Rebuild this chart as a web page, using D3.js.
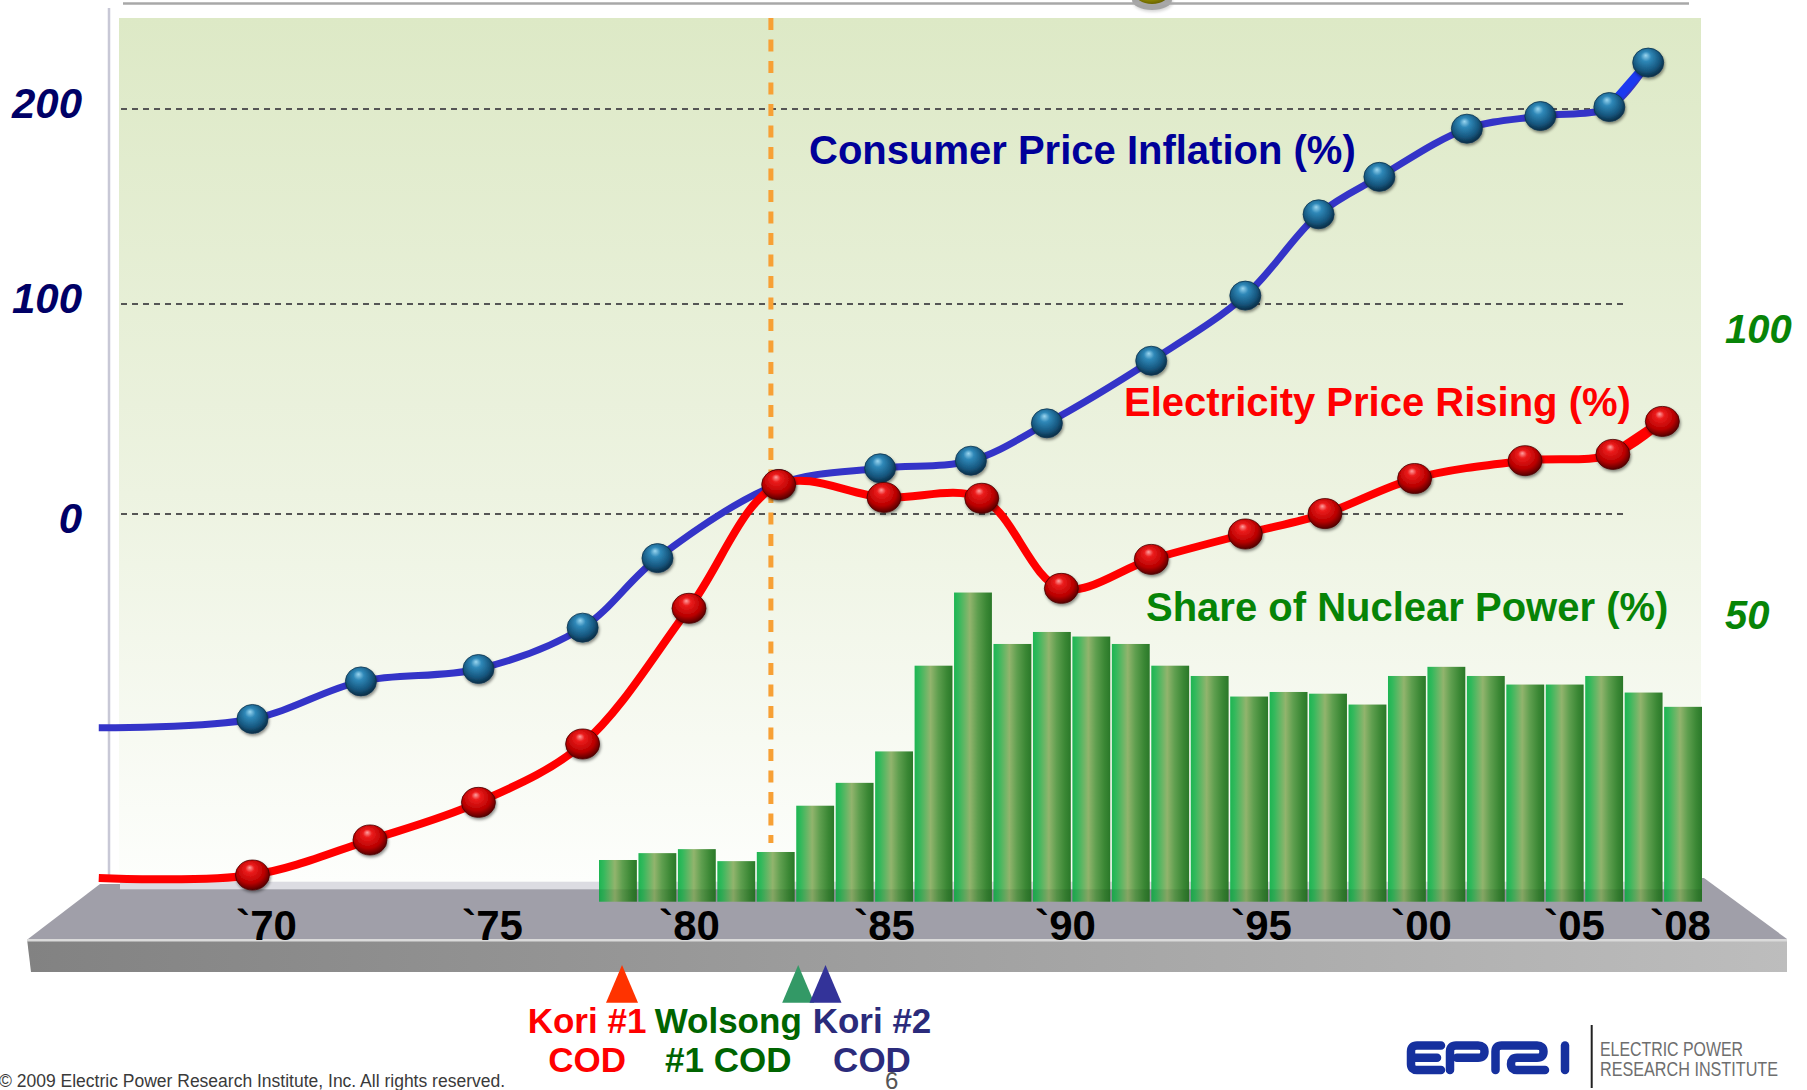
<!DOCTYPE html>
<html>
<head>
<meta charset="utf-8">
<script src="https://cdn.jsdelivr.net/npm/d3@7"></script>
<style>
  body { margin: 0; background: #fff; }
  svg { display: block; font-family: "Liberation Sans", Arial, sans-serif; }
</style>
</head>
<body>
<svg id="chart" width="1807" height="1090"></svg>
<script>
// tick values
var yearTicks = [1970, 1975, 1980, 1985, 1990, 1995, 2000, 2005, 2008];
var indexTicks = [0, 100, 200];
var shareTicks = [50, 100];

// Consumer Price Inflation (%) - first point is the left end of the line (no ball)
var cpiYears  = [1966.3, 1969.7, 1972.1, 1974.7, 1977.3, 1979.2, 1982.3, 1984.9, 1987.4, 1989.5, 1992.2, 1994.6, 1996.8, 1998.7, 2001.5, 2003.9, 2006.0, 2007.1];
var cpiValues = [-102, -97.8, -79.9, -74.0, -54.3, -21.2, 14.1, 21.6, 25.2, 43.0, 72.8, 104.1, 145.8, 165.0, 189.7, 196.2, 200.8, 223.6];

// Electricity Price Rising (%) - first point is the left end of the line (no ball)
var elecYears  = [1966.3, 1969.7, 1972.3, 1974.7, 1977.3, 1980.0, 1982.3, 1985.0, 1987.7, 1989.9, 1992.2, 1994.6, 1997.0, 1999.8, 2003.4, 2006.1, 2007.5];
var elecValues = [-173.5, -172.1, -155.4, -137.5, -109.7, -45.1, 13.8, 7.7, 7.3, -35.6, -21.8, -9.7, 0, 16.7, 25.2, 28.2, 43.9];

// Share of Nuclear Power (%)
var shareYears  = [1978, 1979, 1980, 1981, 1982, 1983, 1984, 1985, 1986, 1987, 1988, 1989, 1990, 1991,
                   1992, 1993, 1994, 1995, 1996, 1997, 1998, 1999, 2000, 2001, 2002, 2003, 2004, 2005];
var shareValues = [7, 8.2, 8.9, 6.8, 8.4, 16.5, 20.5, 26, 41, 53.8, 44.8, 46.9, 46.1, 44.8,
                   41, 39.2, 35.6, 36.4, 36.1, 34.2, 39.2, 40.8, 39.2, 37.7, 37.7, 39.2, 36.3, 33.8];

// reactor commercial operation dates
var eventYears  = [1978.3, 1982.8, 1983.5];
var eventLine1  = ["Kori #1", "Wolsong", "Kori #2"];
var eventLine2  = ["COD", "#1 COD", "COD"];
var markerYear  = 1982.1;

// styles
var eventTextColor = ["#ff0000", "#006400", "#2b2b7b"];
var eventMarkColor = ["#ff3300", "#339966", "#333399"];
var eventLabelDx   = [-35, -70, 46.5];

var svg = d3.select("#chart");
var defs = svg.append("defs");

// scales (the picture's year axis is not evenly spaced)
var x = d3.scaleLinear().domain(yearTicks).range([266, 492, 689, 884, 1065, 1261, 1421, 1574, 1680]);
var y = d3.scaleLinear().domain(indexTicks).range([513.6, 303.6, 108.6]);
var yShare = d3.scaleLinear().domain([0, 100]).range([900, 328.5]);
var xBar = d3.scaleBand().domain(shareYears).range([599, 1702]).paddingInner(0.04);

// gradients
var bg = defs.append("linearGradient").attr("id", "panel").attr("x1", 0).attr("y1", 0).attr("x2", 0).attr("y2", 1);
bg.append("stop").attr("offset", "0%").attr("stop-color", "#dde9c6");
bg.append("stop").attr("offset", "55%").attr("stop-color", "#edf3e1");
bg.append("stop").attr("offset", "100%").attr("stop-color", "#fdfefc");

var bar = defs.append("linearGradient").attr("id", "bar");
[["0%", "#1db552"], ["12%", "#33b95c"], ["42%", "#92b46d"], ["62%", "#5f9f4f"], ["85%", "#3a8734"], ["100%", "#2a7829"]]
  .forEach(function(s) { bar.append("stop").attr("offset", s[0]).attr("stop-color", s[1]); });

var front = defs.append("linearGradient").attr("id", "front");
front.append("stop").attr("offset", "0%").attr("stop-color", "#828282");
front.append("stop").attr("offset", "100%").attr("stop-color", "#bdbdbd");

function ball(id, stops) {
  var g = defs.append("radialGradient").attr("id", id)
    .attr("cx", "45%").attr("cy", "40%").attr("r", "60%").attr("fx", "42%").attr("fy", "25%");
  stops.forEach(function(s) { g.append("stop").attr("offset", s[0]).attr("stop-color", s[1]); });
}
ball("redball", [["0%", "#ffa0a0"], ["22%", "#ec1c1c"], ["70%", "#b80000"], ["100%", "#560000"]]);
ball("blueball", [["0%", "#9ad6f0"], ["28%", "#2f88b8"], ["72%", "#16577f"], ["100%", "#0a2d46"]]);
ball("yellowball", [["0%", "#f0ee60"], ["40%", "#c8c000"], ["100%", "#6a6400"]]);

var sh = defs.append("filter").attr("id", "shadow").attr("x", "-30%").attr("y", "-30%").attr("width", "160%").attr("height", "160%");
sh.append("feDropShadow").attr("dx", 1).attr("dy", 2).attr("stdDeviation", 1.6)
  .attr("flood-color", "#000").attr("flood-opacity", 0.45);

// platform
svg.append("polygon").attr("points", "100,884 1704,878 1787,939 28,939").attr("fill", "#a09fa9");
svg.append("polygon").attr("points", "27,939 1787,939 1787,972 31,972").attr("fill", "url(#front)");
svg.append("rect").attr("x", 27).attr("y", 939).attr("width", 1760).attr("height", 2.5).attr("fill", "#dadada");

// plot panel
svg.append("rect").attr("x", 119).attr("y", 18).attr("width", 1582).attr("height", 864).attr("fill", "url(#panel)");
svg.append("rect").attr("x", 120).attr("y", 881.7).attr("width", 1581).attr("height", 7.6).attr("fill", "#dcdce2");
svg.append("line").attr("x1", 109).attr("x2", 109).attr("y1", 8).attr("y2", 876)
  .attr("stroke", "#c8c8d6").attr("stroke-width", 2.5);

// top rule with a cut-off ball
svg.append("ellipse").attr("cx", 1152).attr("cy", 0).attr("rx", 20).attr("ry", 10)
  .attr("fill", "#000").attr("opacity", 0.35).attr("filter", "url(#shadow)");
svg.append("line").attr("x1", 123).attr("x2", 1689).attr("y1", 3.6).attr("y2", 3.6)
  .attr("stroke", "#a8a8a8").attr("stroke-width", 2.5);
svg.append("ellipse").attr("cx", 1152).attr("cy", -9).attr("rx", 18).attr("ry", 13)
  .attr("fill", "url(#yellowball)");

// left axis with dashed gridlines
var gy = svg.append("g").attr("transform", "translate(1623,0)")
  .call(d3.axisLeft(y).tickValues(indexTicks).tickSize(1505).tickPadding(36).tickFormat(d3.format("d")));
gy.select(".domain").remove();
gy.selectAll(".tick line").attr("stroke", "#555").attr("stroke-width", 2).attr("stroke-dasharray", "6,5");
gy.selectAll(".tick text").attr("font-size", 42).attr("font-weight", "bold").attr("font-style", "italic")
  .attr("font-family", "Liberation Sans, Arial, sans-serif").attr("fill", "#000066")
  .attr("dy", function(d) { return d === 0 ? "0.45em" : "0.2em"; });

// right axis labels for the share
var gr = svg.append("g").attr("transform", "translate(1725,0)")
  .call(d3.axisRight(yShare).tickValues(shareTicks).tickSize(0).tickPadding(0));
gr.select(".domain").remove();
gr.selectAll(".tick text").attr("font-size", 40).attr("font-weight", "bold").attr("font-style", "italic")
  .attr("font-family", "Liberation Sans, Arial, sans-serif").attr("fill", "#078407").attr("dy", "0.36em");

// orange dashed marker line
svg.append("line").attr("x1", x(markerYear)).attr("x2", x(markerYear)).attr("y1", 18).attr("y2", 843)
  .attr("stroke", "#f7a035").attr("stroke-width", 5).attr("stroke-dasharray", "12,9.5");

// bars
var shareData = shareYears.map(function(yr, i) { return { year: yr, value: shareValues[i] }; });
svg.append("g").selectAll("rect").data(shareData).join("rect")
  .attr("x", function(d) { return xBar(d.year); })
  .attr("y", function(d) { return yShare(d.value); })
  .attr("width", xBar.bandwidth())
  .attr("height", function(d) { return yShare(0) + 1.7 - yShare(d.value); })
  .attr("fill", "url(#bar)");
svg.append("rect").attr("x", xBar(shareYears[0])).attr("y", 889.3)
  .attr("width", 1702 - xBar(shareYears[0])).attr("height", yShare(0) + 1.7 - 889.3)
  .attr("fill", "#000").attr("opacity", 0.08);

// year axis
var gx = svg.append("g").attr("transform", "translate(0,940)")
  .call(d3.axisBottom(x).tickValues(yearTicks).tickSize(0)
    .tickFormat(function(d) { return "`" + String(d).slice(2); }));
gx.select(".domain").remove();
gx.selectAll(".tick text").attr("y", 0).attr("dy", null).attr("font-size", 42).attr("font-weight", "bold")
  .attr("font-family", "Liberation Sans, Arial, sans-serif").attr("fill", "#000");

// lines
var line = d3.line()
  .x(function(d) { return x(d.year); })
  .y(function(d) { return y(d.value); })
  .curve(d3.curveCatmullRom.alpha(0.5));

function series(years, values) {
  return years.map(function(yr, i) { return { year: yr, value: values[i] }; });
}
var cpi = series(cpiYears, cpiValues);
var elec = series(elecYears, elecValues);

svg.append("path").datum(cpi).attr("d", line).attr("fill", "none")
  .attr("stroke", "#3434c8").attr("stroke-width", 7).attr("stroke-linejoin", "round");
// last stretch is drawn brighter and heavier in the original
svg.append("path").datum(cpi.slice(-2)).attr("d", line).attr("fill", "none")
  .attr("stroke", "#1c3af0").attr("stroke-width", 9);
svg.append("g").selectAll("ellipse").data(cpi.slice(1)).join("ellipse")
  .attr("cx", function(d) { return x(d.year); })
  .attr("cy", function(d) { return y(d.value); })
  .attr("rx", 15.5).attr("ry", 14.5)
  .attr("fill", "url(#blueball)").attr("stroke", "#0d3550").attr("stroke-width", 0.8)
  .attr("filter", "url(#shadow)");

svg.append("path").datum(elec).attr("d", line).attr("fill", "none")
  .attr("stroke", "#ff0000").attr("stroke-width", 8).attr("stroke-linejoin", "round");
svg.append("path").datum(elec.slice(-2)).attr("d", line).attr("fill", "none")
  .attr("stroke", "#ff0000").attr("stroke-width", 10);
svg.append("g").selectAll("ellipse").data(elec.slice(1)).join("ellipse")
  .attr("cx", function(d) { return x(d.year); })
  .attr("cy", function(d) { return y(d.value); })
  .attr("rx", 17).attr("ry", 15)
  .attr("fill", "url(#redball)").attr("stroke", "#4a0000").attr("stroke-width", 0.8)
  .attr("filter", "url(#shadow)");

// series labels
function label(txt, px, py, color) {
  svg.append("text").attr("x", px).attr("y", py).text(txt)
    .attr("font-size", 40).attr("font-weight", "bold").attr("fill", color);
}
label("Consumer Price Inflation (%)", 809, 164, "#000099");
label("Electricity Price Rising (%)", 1124, 416, "#ff0000");
label("Share of Nuclear Power (%)", 1146, 621, "#078407");

// COD annotations
var ev = svg.append("g").selectAll("g").data(eventYears).join("g")
  .attr("transform", function(d) { return "translate(" + x(d) + ",0)"; });
ev.append("path").attr("d", "M0,965 L16,1002.7 L-16,1002.7 Z")
  .attr("fill", function(d, i) { return eventMarkColor[i]; });
ev.append("text").attr("x", function(d, i) { return eventLabelDx[i]; }).attr("y", 1033)
  .attr("text-anchor", "middle").attr("font-size", 35).attr("font-weight", "bold")
  .attr("fill", function(d, i) { return eventTextColor[i]; })
  .text(function(d, i) { return eventLine1[i]; });
ev.append("text").attr("x", function(d, i) { return eventLabelDx[i]; }).attr("y", 1072)
  .attr("text-anchor", "middle").attr("font-size", 35).attr("font-weight", "bold")
  .attr("fill", function(d, i) { return eventTextColor[i]; })
  .text(function(d, i) { return eventLine2[i]; });

// footer
svg.append("text").attr("x", -1).attr("y", 1087).attr("font-size", 17.5).attr("fill", "#3a3a3a")
  .text("© 2009 Electric Power Research Institute, Inc. All rights reserved.");
svg.append("text").attr("x", 885).attr("y", 1089).attr("font-size", 24).attr("fill", "#555").text("6");

// EPRI logo
var logo = svg.append("g").attr("fill", "none").attr("stroke", "#16309e").attr("stroke-width", 8.5)
  .attr("stroke-linecap", "round").attr("stroke-linejoin", "round");
logo.append("path").attr("d", "M1441,1045.5 H1417 Q1411,1045.5 1411,1051.5 V1064 Q1411,1070 1417,1070 H1441 M1411,1057.8 H1437");
logo.append("path").attr("d", "M1450,1070 V1051.5 Q1450,1045.5 1456,1045.5 H1478 Q1484.5,1045.5 1484.5,1051.6 Q1484.5,1057.8 1478,1057.8 H1457");
logo.append("path").attr("d", "M1495.5,1070 V1051.5 Q1495.5,1045.5 1501.5,1045.5 H1537 Q1543.5,1045.5 1543.5,1051.6 Q1543.5,1057.8 1537,1057.8 H1517 Q1511,1057.8 1511,1064 Q1511,1070 1517,1070 H1545");
logo.append("path").attr("d", "M1565,1045.5 V1070");
svg.append("line").attr("x1", 1591.7).attr("x2", 1591.7).attr("y1", 1025).attr("y2", 1088)
  .attr("stroke", "#222").attr("stroke-width", 2);
svg.append("text").attr("x", 1600).attr("y", 1056).attr("font-size", 20).attr("fill", "#6e6e6e")
  .attr("textLength", 143).attr("lengthAdjust", "spacingAndGlyphs").text("ELECTRIC POWER");
svg.append("text").attr("x", 1600).attr("y", 1076).attr("font-size", 20).attr("fill", "#6e6e6e")
  .attr("textLength", 178).attr("lengthAdjust", "spacingAndGlyphs").text("RESEARCH INSTITUTE");
</script>
</body>
</html>
